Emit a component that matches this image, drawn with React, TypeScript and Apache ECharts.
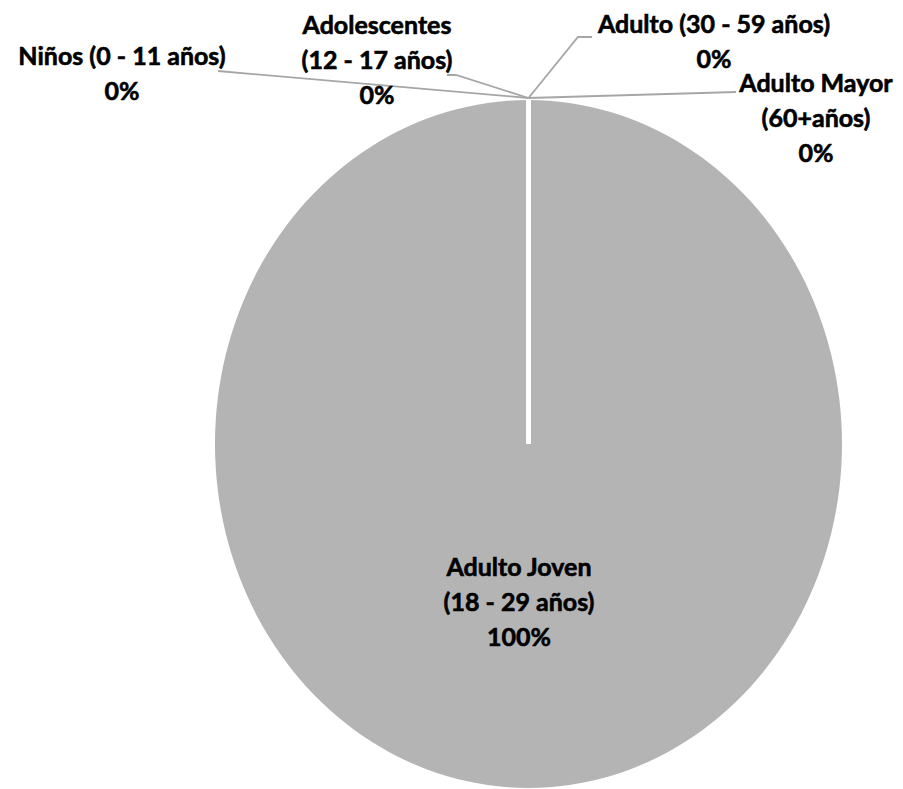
import React, { useEffect, useRef } from 'react';
import * as echarts from 'echarts';

// ---- data ----
const categories = [
  'Niños (0 - 11 años)',
  'Adolescentes (12 - 17 años)',
  'Adulto Joven (18 - 29 años)',
  'Adulto (30 - 59 años)',
  'Adulto Mayor (60+años)',
];
const labelLines = [
  ['Niños (0 - 11 años)'],
  ['Adolescentes', '(12 - 17 años)'],
  ['Adulto Joven', '(18 - 29 años)'],
  ['Adulto (30 - 59 años)'],
  ['Adulto Mayor', '(60+años)'],
];
const values = [0, 0, 100, 0, 0];

// ---- layout (positions / styles) ----
const PIE = { cx: 528.5, cy: 444, rx: 313.5, ry: 344 };
const labelAnchors = [
  [122, 37],
  [377, 6],
  [519, 548],
  [714, 5],
  [816, 64],
];
const leaderEnds: (number[][] | null)[] = [
  [[218, 71]],
  [[447, 75], [456, 75]],
  null,
  [[592, 37], [578, 37]],
  [[736, 92]],
];
const FONT_FAMILY = 'Lato, "Open Sans", sans-serif';
const FONT_SIZE = 25;
const LINE_H = 35;

export default function App() {
  const ref = useRef<HTMLDivElement>(null);
  useEffect(() => {
    document.body.style.margin = '0';
    if (!ref.current) return;
    const chart = echarts.init(ref.current, null, { renderer: 'svg' });
    const total = values.reduce((a, b) => a + b, 0);
    const option = {
      animation: false,
      backgroundColor: '#ffffff',
      series: [
        {
          type: 'custom',
          coordinateSystem: 'none',
          data: categories.map((c, i) => ({ name: c, value: [i, values[i]] })),
          renderItem: (params: any, api: any) => {
            const i = params.dataIndex;
            const v = api.value(1);
            const before = values.slice(0, i).reduce((a, b) => a + b, 0);
            const start = -Math.PI / 2 + (2 * Math.PI * before) / total;
            const end = start + (2 * Math.PI * v) / total;
            const mid = (start + end) / 2;
            const sy = PIE.ry / PIE.rx;
            const children: any[] = [];
            if (v > 0) {
              children.push({
                type: 'sector',
                x: PIE.cx,
                y: PIE.cy,
                scaleY: sy,
                shape: { cx: 0, cy: 0, r0: 0, r: PIE.rx, startAngle: start, endAngle: end, clockwise: true },
                style: { fill: '#B4B4B4' },
                z2: 0,
              });
            }
            children.push({
              type: 'line',
              x: PIE.cx,
              y: PIE.cy,
              scaleY: sy,
              shape: { x1: 0, y1: 0, x2: PIE.rx * Math.cos(start), y2: PIE.rx * Math.sin(start) },
              style: { stroke: '#ffffff', lineWidth: 4 },
              z2: 5,
            });
            const ends = leaderEnds[i];
            if (ends) {
              const ax = PIE.cx + (PIE.rx + 2) * Math.cos(mid);
              const ay = PIE.cy + (PIE.ry + 2) * Math.sin(mid);
              const pts = [...ends, [ax, ay]];
              children.push({
                type: 'polyline',
                shape: { points: pts },
                style: { stroke: '#A6A6A6', lineWidth: 1.8, fill: null },
                z2: 6,
              });
            }
            const pct = Math.round((v / total) * 100) + '%';
            const txt = [...labelLines[i], pct].join('\n');
            const [lx, ly] = labelAnchors[i];
            children.push({
              type: 'text',
              x: lx,
              y: ly,
              style: {
                text: txt,
                fill: '#000000',
                textFill: '#000000',
                stroke: '#000000',
                lineWidth: 0.6,
                textStroke: '#000000',
                textStrokeWidth: 0.6,
                font: `bold ${FONT_SIZE}px ${FONT_FAMILY}`,
                align: 'center',
                textAlign: 'center',
                verticalAlign: 'top',
                textVerticalAlign: 'top',
                lineHeight: LINE_H,
                textLineHeight: LINE_H,
              },
              z2: 10,
            });
            return { type: 'group', children };
          },
        },
      ],
    };
    chart.setOption(option as any);
    return () => chart.dispose();
  }, []);
  return <div ref={ref} style={{ width: 903, height: 789 }} />;
}
